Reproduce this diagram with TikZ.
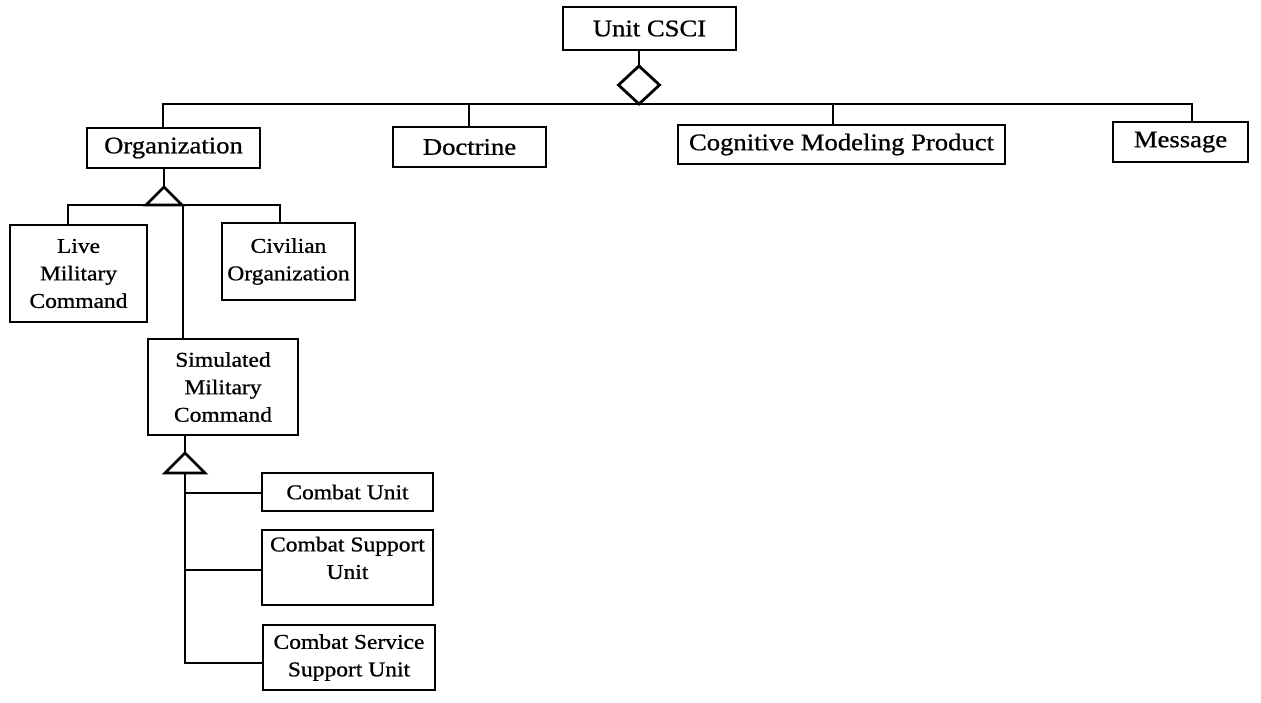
\documentclass[tikz,border=0pt]{standalone}
\usepackage{fontspec}
\setmainfont{Liberation Serif}[FakeStretch=1.12,FakeBold=0.8]
\begin{document}
\begin{tikzpicture}[x=1pt,y=-1pt,
  box/.style={draw, line width=2.8pt, inner sep=0pt, align=center},
  big/.style={font=\fontsize{23.8}{28}\selectfont},
  small/.style={font=\fontsize{21}{27.5}\selectfont},
  wire/.style={line width=2.8pt, line join=miter},
  head/.style={draw, line width=2.8pt, fill=white, line join=miter}]
\useasboundingbox[fill=white] (0,0) rectangle (1261,702);

% top level
\node[box,big,minimum width=173,minimum height=43] (unit) at (649.5,28.5) {Unit CSCI};
\node[box,big,minimum width=173,minimum height=40] (org) at (173.5,148) {Organization};
\node[box,big,minimum width=153,minimum height=40] (doc) at (469.5,147) {Doctrine};
\node[box,big,minimum width=327,minimum height=39] (cog) at (841.5,144.5) {Cognitive Modeling Product};
\node[box,big,minimum width=135,minimum height=40] (msg) at (1180.5,142) {Message};

% organization kinds
\node[box,small,minimum width=137,minimum height=97] (live) at (78.5,273.5) {Live\\Military\\Command};
\node[box,small,minimum width=133,minimum height=77] (civ) at (288.5,261.5) {Civilian\\Organization};
\node[box,small,minimum width=150,minimum height=96] (sim) at (223,387) {Simulated\\Military\\Command};

% simulated command kinds
\node[box,small,minimum width=171,minimum height=38] (cu) at (347.5,492) {Combat Unit};
\node[box,minimum width=171,minimum height=75] (csu) at (347.5,567.5) {};
\node[small,align=center,anchor=north,inner sep=0pt] (csutext) at ([yshift=-8pt]csu.north) {Combat Support\\Unit};
\node[box,small,minimum width=172,minimum height=65] (cssu) at (349,657.5) {Combat Service\\Support Unit};

% aggregation bus
\coordinate (dtop) at (639,66);
\coordinate (dbot) at (639,104);
\coordinate (busL) at (163,104);
\coordinate (busR) at (1192,104);
\coordinate (tapD) at (469,104);
\coordinate (tapC) at (833,104);
\draw[wire] (unit.south -| dtop) -- (dtop);
\draw[wire] (org.north -| busL) -- (busL) -- (busR) -- (busR |- msg.north);
\draw[wire] (tapD) -- (tapD |- doc.north);
\draw[wire] (tapC) -- (tapC |- cog.north);
\draw[head] (dtop) -- (659.5,85) -- (dbot) -- (618.5,85) -- cycle;

% organization generalization
\coordinate (otop) at (164,187);
\coordinate (oL) at (68,205);
\coordinate (oR) at (280,205);
\coordinate (oS) at (183,205);
\draw[wire] (org.south -| otop) -- (otop);
\draw[wire] (live.north -| oL) -- (oL) -- (oR) -- (oR |- civ.north);
\draw[wire] (oS) -- (oS |- sim.north);
\draw[head] (otop) -- (182,205) -- (146,205) -- cycle;

% simulated command generalization
\coordinate (stop) at (185,453);
\coordinate (sbase) at (185,473);
\coordinate (b1) at (185,493);
\coordinate (b2) at (185,570);
\coordinate (b3) at (185,663);
\draw[wire] (sim.south -| stop) -- (stop);
\draw[wire] (sbase) -- (b3) -- (b3 -| cssu.west);
\draw[wire] (b1) -- (b1 -| cu.west);
\draw[wire] (b2) -- (b2 -| csu.west);
\draw[head] (stop) -- (205,473) -- (165,473) -- cycle;
\end{tikzpicture}
\end{document}
